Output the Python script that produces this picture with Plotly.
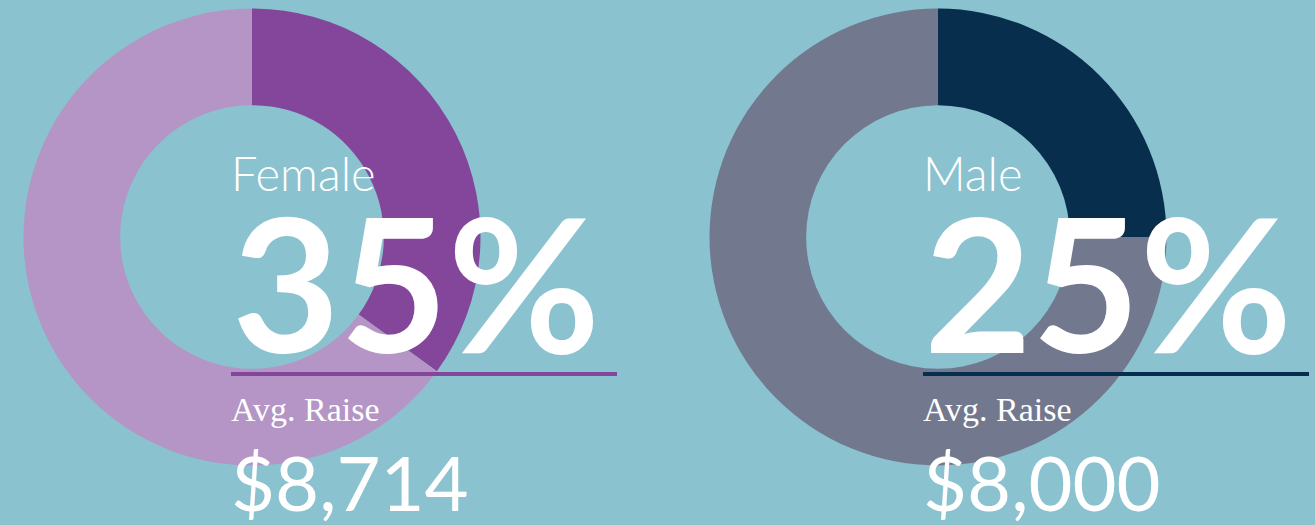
import plotly.graph_objects as go

W, H = 1315, 525
BG = "#8AC2CF"

groups = ["Female", "Male"]
shares = [35, 25]
raise_labels = ["$8,714", "$8,000"]
dark_colors = ["#84469A", "#082E4D"]
light_colors = ["#B495C5", "#72788D"]

# pixel layout for each donut (center x, text left x)
centers_x = [252, 938]
text_x = [232, 924]
center_y = 237
radius = 228.5

fig = go.Figure()

def px(x):
    return x / W

def py(y):
    return 1 - y / H

for i, g in enumerate(groups):
    cx = centers_x[i]
    fig.add_trace(go.Pie(
        values=[shares[i], 100 - shares[i]],
        labels=[g, "Other"],
        hole=0.577,
        sort=False,
        direction="clockwise",
        rotation=0,
        marker=dict(colors=[dark_colors[i], light_colors[i]], line=dict(width=0)),
        textinfo="none",
        hoverinfo="skip",
        showlegend=False,
        domain=dict(x=[px(cx - radius), px(cx + radius)],
                    y=[py(center_y + radius), py(center_y - radius)]),
    ))
    tx = text_x[i]
    fig.add_annotation(x=px(tx - 3), y=py(173), xref="paper", yref="paper",
                       text=g, showarrow=False, xanchor="left", yanchor="middle",
                       font=dict(family="Lato", size=47, color="white", weight=300))
    fig.add_annotation(x=px(tx - 2), y=py(281), xref="paper", yref="paper",
                       text=f"{shares[i]}%", showarrow=False, xanchor="left", yanchor="middle",
                       font=dict(family="Lato", size=186, color="white", weight=700))
    fig.add_shape(type="line", xref="paper", yref="paper",
                  x0=px(tx - 1), x1=px(tx + 385), y0=py(374), y1=py(374),
                  line=dict(color=dark_colors[i], width=4))
    fig.add_annotation(x=px(tx - 3), y=py(409), xref="paper", yref="paper",
                       text="Avg. Raise", showarrow=False, xanchor="left", yanchor="middle",
                       font=dict(family="Liberation Serif", size=34, color="white"))
    fig.add_annotation(x=px(tx - 3), y=py(481), xref="paper", yref="paper",
                       text=raise_labels[i], showarrow=False, xanchor="left", yanchor="middle",
                       font=dict(family="Lato", size=76, color="white", weight=400))

fig.update_layout(
    width=W, height=H,
    margin=dict(l=0, r=0, t=0, b=0),
    paper_bgcolor=BG, plot_bgcolor=BG,
    showlegend=False,
)

fig.write_html("out.html",
               config={"displayModeBar": False},
               post_script="document.body.style.margin='0';document.body.style.overflow='hidden';document.body.style.background='" + BG + "';")
